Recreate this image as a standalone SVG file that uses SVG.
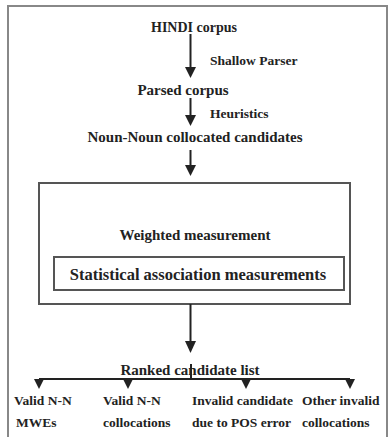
<svg xmlns="http://www.w3.org/2000/svg" width="390" height="437" viewBox="0 0 390 437">
<style>
text{font-family:"Liberation Serif","Times New Roman",serif;font-weight:bold;fill:#222}
.c{text-anchor:middle}
.s{font-size:13.5px}
.m{font-size:15px}
.ln{stroke:#222;stroke-width:2;fill:none}
.box{stroke:#555;stroke-width:2;fill:none}
</style>
<defs>
<marker id="ah" markerWidth="6" markerHeight="6" refX="5" refY="3" orient="auto" markerUnits="strokeWidth">
<path d="M0,0 L6,3 L0,6 Z" fill="#222"/>
</marker>
</defs>
<rect x="8" y="6" width="379" height="445" fill="#fff" stroke="#888" stroke-width="2"/>
<g id="hindi"><text class="m c" x="194" y="32" style="font-size:14px">HINDI corpus</text></g>
<g id="shallow"><text class="s" x="210" y="65">Shallow Parser</text></g>
<g id="parsed"><text class="m c" x="183" y="95">Parsed corpus</text></g>
<g id="heur"><text class="s" x="210" y="118">Heuristics</text></g>
<g id="nn"><text class="m c" x="195" y="142">Noun-Noun collocated candidates</text></g>
<g id="weighted">
<rect class="box" x="39" y="183" width="311" height="121"/>
<text class="m c" x="195" y="240">Weighted measurement</text>
</g>
<g id="stat">
<rect class="box" x="54" y="257" width="290" height="33"/>
<text class="c" x="198" y="280" style="font-size:16.5px">Statistical association measurements</text>
</g>
<g id="ranked"><text class="m c" x="190" y="375">Ranked candidate list</text></g>
<g id="o1"><text class="s" x="14" y="405">Valid N-N</text><text class="s" x="16" y="427">MWEs</text></g>
<g id="o2"><text class="s" x="103" y="405">Valid N-N</text><text class="s" x="103" y="427">collocations</text></g>
<g id="o3"><text class="s" x="192" y="405">Invalid candidate</text><text class="s" x="192" y="427">due to POS error</text></g>
<g id="o4"><text class="s" x="302" y="405">Other invalid</text><text class="s" x="302" y="427">collocations</text></g>
<g id="connectors" fill="#222">
<line class="ln" x1="190.5" y1="34" x2="190.5" y2="68"/>
<path d="M185,67 L196,67 L190.5,78 Z"/>
<line class="ln" x1="190.5" y1="98" x2="190.5" y2="116"/>
<path d="M185,115 L196,115 L190.5,126 Z"/>
<line class="ln" x1="190.5" y1="150" x2="190.5" y2="166"/>
<path d="M185,165 L196,165 L190.5,176 Z"/>
<line class="ln" x1="190.5" y1="304" x2="190.5" y2="342"/>
<path d="M185,341 L196,341 L190.5,353 Z"/>
<line class="ln" x1="191" y1="364" x2="191" y2="379"/>
<line class="ln" x1="39" y1="379" x2="350" y2="379"/>
<path d="M34,379 L44,379 L39,389 Z"/>
<path d="M123,379 L133,379 L128,389 Z"/>
<path d="M241,379 L251,379 L246,389 Z"/>
<path d="M345,379 L355,379 L350,389 Z"/>
</g>
</svg>
